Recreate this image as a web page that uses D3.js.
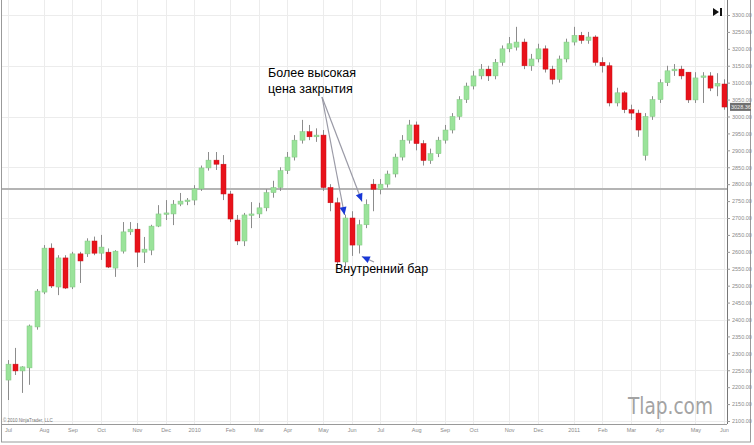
<!DOCTYPE html>
<html>
<head>
<meta charset="utf-8">
<script src="https://cdn.jsdelivr.net/npm/d3@7"></script>
<style>
  body { margin: 0; background: #fff; }
  svg { display: block; font-family: "Liberation Sans", Arial, sans-serif; }
</style>
</head>
<body>
<svg width="754" height="445"></svg>
<script>
// weekly bars, first bar dated Fri 2009-07-03
const firstWeek = "2009-07-03"

const opens = [2221,2268,2248,2257,2378,2481,2611,2496,2582,2496,
  2594,2594,2632,2596,2599,2552,2602,2659,2667,2599,
  2605,2676,2712,2712,2741,2750,2753,2786,2848,2871,
  2859,2771,2694,2632,2709,2712,2730,2775,2790,2840,
  2880,2930,2955,2940,2945,2790,2745,2570,2700,2620,
  2680,2800,2785,2800,2830,2880,2930,2975,2920,2870,
  2890,2930,2960,3000,3050,3090,3120,3140,3120,3160,
  3200,3205,3220,3150,3170,3200,3140,3110,3170,3220,
  3240,3225,3235,3160,3150,3040,3070,3020,3010,2885,
  3000,3050,3100,3135,3140,3131,3049,3117,3120,3090,3096]
const highs = [2280,2316,2262,2385,2490,2620,2625,2590,2590,2600,
  2600,2640,2645,2650,2610,2605,2688,2688,2685,2644,
  2680,2738,2753,2753,2774,2759,2797,2855,2895,2895,
  2886,2780,2709,2715,2747,2745,2785,2810,2850,2895,
  2945,2990,2975,2965,2960,2800,2760,2710,2720,2695,
  2755,2815,2815,2840,2890,2945,2990,2985,2930,2905,
  2940,2975,3010,3060,3100,3135,3155,3150,3170,3210,
  3235,3265,3230,3185,3215,3210,3150,3180,3230,3265,
  3250,3250,3240,3175,3160,3085,3075,3035,3020,3010,
  3060,3110,3150,3155,3150,3131,3131,3131,3131,3128,3110]
const lows = [2162,2236,2183,2207,2370,2475,2493,2472,2490,2490,
  2508,2585,2590,2576,2552,2526,2595,2650,2555,2567,
  2590,2673,2694,2679,2735,2738,2738,2780,2840,2842,
  2753,2688,2620,2617,2670,2700,2720,2760,2780,2830,
  2870,2920,2930,2925,2780,2720,2550,2555,2588,2595,
  2670,2720,2770,2790,2820,2870,2920,2900,2855,2860,
  2880,2920,2950,2990,3040,3080,3110,3105,3110,3150,
  3190,3195,3140,3135,3160,3130,3095,3100,3160,3210,
  3215,3215,3150,3130,3030,3030,3010,2990,2940,2870,
  2990,3040,3090,3120,3110,3040,3040,3040,3075,3060,3020]
const closes = [2268,2248,2260,2381,2484,2611,2499,2582,2493,2594,
  2573,2632,2596,2614,2555,2602,2659,2667,2599,2608,
  2676,2712,2715,2741,2750,2753,2786,2848,2871,2859,
  2771,2697,2632,2709,2712,2730,2775,2790,2840,2880,
  2930,2955,2940,2945,2790,2745,2570,2700,2620,2680,
  2740,2785,2800,2830,2880,2930,2975,2920,2870,2890,
  2930,2960,3000,3050,3090,3120,3140,3120,3160,3200,
  3215,3220,3150,3170,3200,3140,3110,3170,3220,3240,
  3225,3235,3160,3150,3040,3070,3020,3010,2960,3000,
  3050,3100,3135,3140,3120,3049,3114,3120,3084,3098,3028]

const priceTicks = d3.range(2100, 3301, 50)
const gridPrices = d3.range(2100, 3301, 150)
const supportLevel = 2786
const lastPrice = 3028.36

// annotation targets (bar indexes)
const higherCloseBars = [47, 50]
const insideBar = 49

const svg = d3.select("svg")
const axisX = 727, axisY = 424

const parse = d3.timeParse("%Y-%m-%d")
const dates = opens.map((d, i) => d3.timeDay.offset(parse(firstWeek), 7 * i))
const bars = dates.map((d, i) => ({ date: d, o: opens[i], h: highs[i], l: lows[i], c: closes[i] }))

const x = d3.scaleTime()
  .domain([dates[0], dates[dates.length - 1]])
  .range([8, 724])
const y = d3.scaleLinear()
  .domain([2100, 3300])
  .range([421, 15])

// first bar of each month gets a grid line + label
const monthDates = dates.filter((d, i) => i == 0 || d.getMonth() != dates[i - 1].getMonth())
const monthLabel = d => d.getMonth() == 0 ? d3.timeFormat("%Y")(d) : d3.timeFormat("%b")(d)

// grid
svg.append("g").selectAll("line")
  .data(monthDates)
  .join("line")
  .attr("x1", d => Math.round(x(d)) + 0.5).attr("x2", d => Math.round(x(d)) + 0.5)
  .attr("y1", 0).attr("y2", axisY)
  .attr("stroke", "#ececec")
svg.append("g").selectAll("line")
  .data(gridPrices)
  .join("line")
  .attr("x1", 2).attr("x2", axisX)
  .attr("y1", d => Math.round(y(d)) + 0.5).attr("y2", d => Math.round(y(d)) + 0.5)
  .attr("stroke", "#ececec")

// frame
svg.append("rect")
  .attr("x", 1.5).attr("y", -2).attr("width", 749).attr("height", 444)
  .attr("fill", "none").attr("stroke", "#9a9a9a")

// support line
svg.append("line")
  .attr("x1", 2).attr("x2", axisX)
  .attr("y1", y(supportLevel)).attr("y2", y(supportLevel))
  .attr("stroke", "#b4b4b4").attr("stroke-width", 2)

// candles
const candles = svg.append("g").selectAll("g")
  .data(bars)
  .join("g")
candles.append("line")
  .attr("x1", d => Math.round(x(d.date)) + 0.5).attr("x2", d => Math.round(x(d.date)) + 0.5)
  .attr("y1", d => y(d.h)).attr("y2", d => y(d.l))
  .attr("stroke", "#8c8c8c")
candles.append("rect")
  .attr("x", d => Math.round(x(d.date)) - 2)
  .attr("width", 5)
  .attr("y", d => y(Math.max(d.o, d.c)))
  .attr("height", d => Math.max(1.5, Math.abs(y(d.o) - y(d.c))))
  .attr("fill", d => d.c >= d.o ? "#9ae39a" : "#e8121a")
  .attr("stroke", d => d.c >= d.o ? "#84c684" : "#c81018")
  .attr("stroke-width", 0.5)

// price axis
const yAxis = svg.append("g")
  .attr("transform", `translate(${axisX},0)`)
  .call(d3.axisRight(y).tickValues(priceTicks).tickFormat(d3.format(".2f")).tickSize(3).tickPadding(2))
yAxis.select(".domain").attr("d", `M0.5,0V${axisY}`).attr("stroke", "#777")
yAxis.selectAll(".tick line").attr("stroke", "#999")
yAxis.selectAll("text").attr("fill", "#8a8a8a").attr("font-size", 5.5)

// last price marker
svg.append("rect")
  .attr("x", axisX + 3).attr("y", y(lastPrice) - 4)
  .attr("width", 21).attr("height", 8)
  .attr("fill", "#707070")
svg.append("text")
  .attr("x", axisX + 4).attr("y", y(lastPrice) + 2)
  .attr("font-size", 5.5).attr("fill", "#eee")
  .text(d3.format(".2f")(lastPrice))

// time axis
const xAxis = svg.append("g")
  .attr("transform", `translate(0,${axisY})`)
  .call(d3.axisBottom(x).tickValues(monthDates).tickFormat(monthLabel).tickSize(0).tickPadding(4))
xAxis.select(".domain").attr("d", `M2,0.5H${axisX}`).attr("stroke", "#999")
xAxis.selectAll("text").attr("fill", "#8a8a8a").attr("font-size", 5.5)

// annotations
const tri = (g, tx, ty, fx, fy) => {
  const a = Math.atan2(ty - fy, tx - fx) * 180 / Math.PI
  g.append("path")
    .attr("d", "M0,0L-8,-3.5L-8,3.5Z")
    .attr("transform", `translate(${tx},${ty}) rotate(${a})`)
    .attr("fill", "#1837d6")
}
const ann = svg.append("g")
const fromPt = [322, 97]
higherCloseBars.forEach((b, k) => {
  const tx = x(dates[b]) - 4 * k, ty = y(closes[b]) - 3
  ann.append("line")
    .attr("x1", fromPt[0]).attr("y1", fromPt[1]).attr("x2", tx).attr("y2", ty)
    .attr("stroke", "#9a9aa6").attr("stroke-width", 1.2)
  tri(ann, tx, ty, fromPt[0], fromPt[1])
})
{
  const tx = x(dates[insideBar]) + 3, ty = y(lows[insideBar]) + 3
  const fx = 374, fy = 262
  ann.append("line")
    .attr("x1", fx).attr("y1", fy).attr("x2", tx).attr("y2", ty)
    .attr("stroke", "#9a9aa6").attr("stroke-width", 1.2)
  tri(ann, tx, ty, fx, fy)
}
ann.append("text").attr("x", 268).attr("y", 77).attr("font-size", 12.5).text("Более высокая")
ann.append("text").attr("x", 268).attr("y", 93).attr("font-size", 12.5).text("цена закрытия")
ann.append("text").attr("x", 335).attr("y", 273).attr("font-size", 12.5).text("Внутренний бар")

// watermark, copyright, nav icon
svg.append("text")
  .attr("x", 628).attr("y", 414)
  .attr("font-family", "'DejaVu Sans', sans-serif").attr("font-size", 23)
  .attr("textLength", 85).attr("lengthAdjust", "spacingAndGlyphs")
  .attr("fill", "#a3a3a3")
  .text("Tlap.com")
svg.append("text")
  .attr("x", 3).attr("y", 422)
  .attr("font-size", 4.5).attr("fill", "#777")
  .text("© 2010 NinjaTrader, LLC")
svg.append("path").attr("d", "M713,8L719,12L713,16Z").attr("fill", "#111")
svg.append("rect").attr("x", 720).attr("y", 8).attr("width", 2).attr("height", 8).attr("fill", "#111")
</script>
</body>
</html>
